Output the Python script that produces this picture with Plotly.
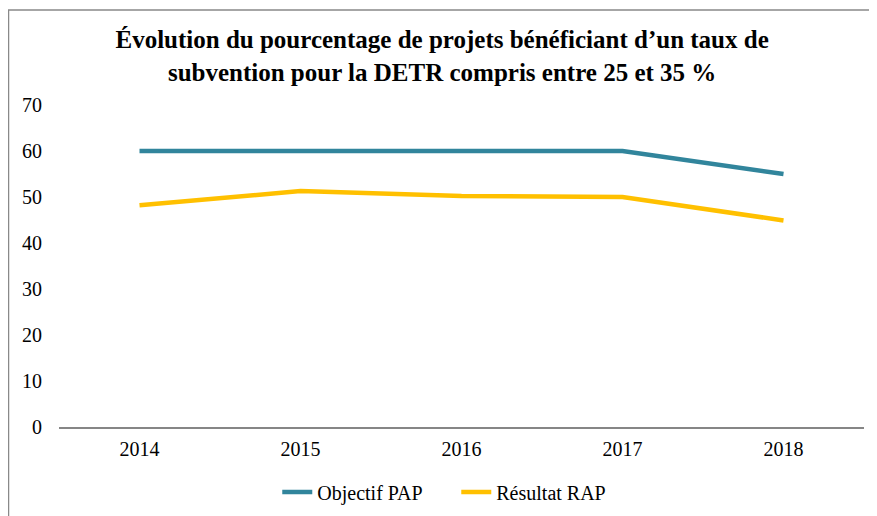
import plotly.graph_objects as go

years = ["2014", "2015", "2016", "2017", "2018"]
objectif_pap = [60, 60, 60, 60, 55]
resultat_rap = [48.2, 51.3, 50.2, 50.0, 44.9]
y_ticks = [0, 10, 20, 30, 40, 50, 60, 70]

FONT = "Liberation Serif, Times New Roman, serif"

# page body adds an 8px offset; margins compensate for it
L, R, T, B = 51, 21, 97, 97
PW, PH = 877 - L - R, 516 - T - B

fig = go.Figure()
fig.add_trace(go.Scatter(x=years, y=objectif_pap, mode="lines", name="Objectif PAP",
                         line=dict(color="#31859C", width=4.5)))
fig.add_trace(go.Scatter(x=years, y=resultat_rap, mode="lines", name="Résultat RAP",
                         line=dict(color="#FFC000", width=4.5)))

fig.update_layout(
    width=877, height=516,
    margin=dict(l=L, r=R, t=T, b=B),
    paper_bgcolor="white", plot_bgcolor="white",
    font=dict(family=FONT, size=20, color="black"),
    title=dict(
        text="<b>Évolution du pourcentage de projets bénéficiant d’un taux de<br>subvention pour la DETR compris entre 25 et 35 %</b>",
        font=dict(family=FONT, size=25, color="black"),
        x=0.495, xanchor="center", xref="container",
        y=1 - 40 / 516, yanchor="middle", yref="container",
    ),
    xaxis=dict(type="category", range=[-0.5, 4.5], showgrid=False,
               showline=True, linecolor="#868686", linewidth=1.5,
               ticks="", ticklabelstandoff=3, zeroline=False, automargin=False,
               tickfont=dict(family=FONT, size=20)),
    yaxis=dict(range=[0, 70], tickvals=y_ticks, showgrid=False, showline=False,
               zeroline=False, ticks="", ticklabelstandoff=16, automargin=False,
               tickfont=dict(family=FONT, size=20)),
    legend=dict(orientation="h", x=0.4935, xanchor="center", y=-0.202, yanchor="middle",
                font=dict(family=FONT, size=20), itemwidth=30, tracegroupgap=0,
                entrywidth=134),
    showlegend=True,
    shapes=[dict(type="rect", xref="paper", yref="paper",
                 x0=(0.5 - L) / PW, x1=1.3, y0=-0.6, y1=1 + (T - 2) / PH,
                 line=dict(color="#898989", width=1.5), fillcolor="rgba(0,0,0,0)",
                 layer="below")],
)

fig.write_html("out.html")
